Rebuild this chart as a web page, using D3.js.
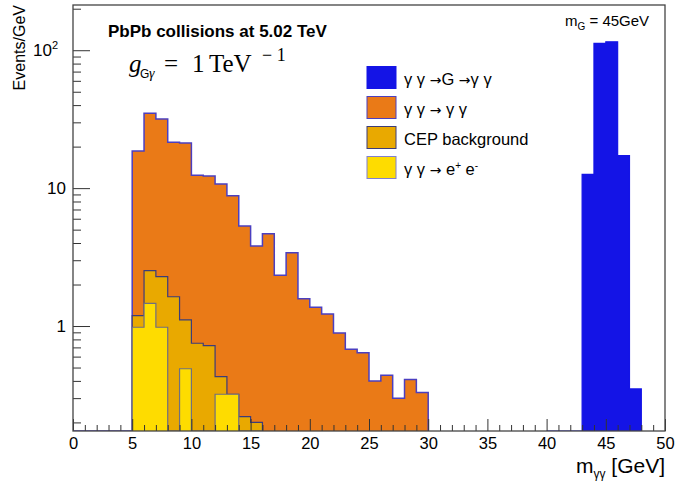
<!DOCTYPE html>
<html>
<head>
<meta charset="utf-8">
<script src="https://cdn.jsdelivr.net/npm/d3@7/dist/d3.min.js"></script>
<style>
    body { margin: 0; background: #fff; }
    text { font-family: "Liberation Sans", Arial, Helvetica, sans-serif; fill: #000; }
</style>
</head>
<body>
<svg class="mggPlot" width="699" height="485"></svg>
<script>
//Diphoton invariant mass, PbPb at 5.02 TeV, stacked backgrounds + graviton signal (log y)

//--Data (1 GeV bins, value = events/GeV, bins are given by their low edge)
var ggBins  = [0, 1, 2, 3, 4, 5, 6, 7, 8, 9, 10, 11, 12, 13, 14, 15, 16, 17, 18, 19,
               20, 21, 22, 23, 24, 25, 26, 27, 28, 29];
var ggVals  = [0, 0, 0, 0, 0, 17.4, 32.4, 29.4, 19.9, 20.1, 11.65, 11.5, 10.3, 8.5, 5.1, 3.6,
               4.67, 2.33, 3.40, 1.58, 1.37, 1.22, 0.89, 0.68, 0.64, 0.40, 0.44, 0.30, 0.41, 0.33];
var lowBins = [5, 6, 7, 8, 9, 10, 11, 12, 13, 14, 15];
var cepVals = [0.21, 1.06, 1.30, 1.63, 0.62, 0.75, 0.72, 0.11, 0, 0.22, 0.20];
var eeVals  = [0.98, 1.46, 0.98, 0, 0.49, 0, 0, 0.32, 0.32, 0, 0];
var gravBins = [40, 41, 42, 43, 44, 45, 46, 47];
var gravVals = [0.05, 0.05, 0, 12.6, 112, 115, 17.2, 0.35];

var xMajor = [0, 5, 10, 15, 20, 25, 30, 35, 40, 45, 50];
var yMajor = [1, 10, 100];
var binWidth = 1;

var legendData = [ { txt: ["\u03b3 \u03b3 ", "\u2192", "G ", "\u2192", "\u03b3 \u03b3"], fill: "#1414e6", stroke: "#1414e6" },
                   { txt: ["\u03b3 \u03b3  ", "\u2192", "  \u03b3 \u03b3"], fill: "#ea7a17", stroke: "#4b3fc0" },
                   { txt: ["CEP background"], fill: "#e9a900", stroke: "#3c3c7a" },
                   { txt: ["\u03b3 \u03b3  ", "\u2192", "  e", "+", " e", "-"], fill: "#fedc00", stroke: "#8080d0" } ];

var svg = d3.select("svg.mggPlot"),
    frame = {left: 73, right: 665, top: 5, bottom: 431};
var serif = "'Liberation Serif', 'DejaVu Serif', serif";

var x = d3.scaleLinear().domain([0, 50]).range([frame.left, frame.right]);
var y = d3.scaleLog().domain([0.1733, 212.8]).range([frame.bottom, frame.top]);
var yMin = y.domain()[0];

function lookup(bins, vals, b) {
    var i = bins.indexOf(b);
    return i < 0 ? 0 : vals[i];
}

//cumulative stack: ee at the bottom, then CEP, then gamma gamma
var cepStack = lowBins.map(function(b, i) { return cepVals[i] + eeVals[i]; });
var ggStack = ggBins.map(function(b, i) {
    return ggVals[i] + lookup(lowBins, cepVals, b) + lookup(lowBins, eeVals, b);
});

function stepPoints(bins, vals) {
    var base = y.range()[0];
    var pts = [[x(bins[0]), base]];
    bins.forEach(function(b, i) {
        var v = vals[i] > yMin ? y(vals[i]) : base;
        pts.push([x(b), v]);
        pts.push([x(b + binWidth), v]);
    });
    pts.push([x(bins[bins.length - 1] + binWidth), base]);
    return pts;
}

svg.append("defs").append("clipPath").attr("id", "frameClip")
    .append("rect")
    .attr("x", frame.left).attr("y", frame.top)
    .attr("width", frame.right - frame.left).attr("height", frame.bottom - frame.top);

var hists = svg.append("g").attr("clip-path", "url(#frameClip)");
var line = d3.line();

function drawHist(bins, vals, fill, stroke, width) {
    var pts = stepPoints(bins, vals);
    hists.append("path")
        .attr("d", line(pts) + "Z")
        .attr("fill", fill)
        .attr("stroke", "none");
    hists.append("path")
        .attr("d", line(pts))
        .attr("fill", "none")
        .attr("stroke", stroke)
        .attr("stroke-width", width);
}

drawHist(gravBins, gravVals, "#1414e6", "#1414e6", 1.2);
drawHist(ggBins, ggStack, "#ea7a17", "#4b3fc0", 1.5);
drawHist(lowBins, cepStack, "#e9a900", "#3c3c7a", 1.2);
drawHist(lowBins, eeVals, "#fedc00", "#6f6f80", 1.2);

//--Axes (ROOT style: ticks point inwards)
var xMinor = d3.range(0, 51).filter(function(v) { return v % 5 !== 0; });
svg.append("g")
    .attr("transform", "translate(0," + frame.bottom + ")")
    .call(d3.axisBottom(x).tickValues(xMinor).tickSize(-6).tickFormat(""))
    .call(function(g) { g.select(".domain").remove(); g.selectAll("line").attr("stroke", "#333"); });

svg.append("g")
    .attr("transform", "translate(0," + frame.bottom + ")")
    .call(d3.axisBottom(x).tickValues(xMajor).tickSize(-12).tickPadding(6).tickFormat(d3.format("d")))
    .call(function(g) {
        g.select(".domain").remove();
        g.selectAll("line").attr("stroke", "#333");
        g.selectAll("text").attr("font-size", "16.5px").attr("font-family", null);
    });

var yMinor = [];
[0.1, 1, 10, 100].forEach(function(dec) {
    d3.range(2, 10).forEach(function(k) {
        var v = k * dec;
        if (v > yMin && v < y.domain()[1]) yMinor.push(v);
    });
});
svg.append("g")
    .attr("transform", "translate(" + frame.left + ",0)")
    .call(d3.axisLeft(y).tickValues(yMinor).tickSize(-8).tickFormat(""))
    .call(function(g) { g.select(".domain").remove(); g.selectAll("line").attr("stroke", "#333"); });

svg.append("g")
    .attr("transform", "translate(" + frame.left + ",0)")
    .call(d3.axisLeft(y).tickValues(yMajor).tickSize(-17).tickPadding(7).tickFormat(function(d) { return d >= 100 ? "10" : d3.format("d")(d); }))
    .call(function(g) {
        g.select(".domain").remove();
        g.selectAll("line").attr("stroke", "#333");
        g.selectAll("text").attr("font-size", "17px").attr("font-family", null);
        //exponent for 10^2
        g.selectAll("text").filter(function(d) { return d >= 100; })
            .attr("dx", "-8px")
            .append("tspan").attr("dy", "-7").attr("font-size", "11px").text("2");
    });

//frame
svg.append("rect")
    .attr("x", frame.left).attr("y", frame.top)
    .attr("width", frame.right - frame.left).attr("height", frame.bottom - frame.top)
    .attr("fill", "none")
    .attr("stroke", "#444")
    .attr("stroke-width", 1.3);

//--Axis titles
var xt = svg.append("text")
    .attr("x", frame.right)
    .attr("y", 473)
    .attr("text-anchor", "end")
    .attr("font-size", "21px");
xt.append("tspan").text("m");
xt.append("tspan").attr("dy", "5").attr("font-size", "12px").text("\u03b3\u03b3");
xt.append("tspan").attr("dy", "-5").text(" [GeV]");

svg.append("text")
    .attr("transform", "rotate(-90)")
    .attr("x", -frame.top)
    .attr("y", 25)
    .attr("text-anchor", "end")
    .attr("font-size", "16px")
    .text("Events/GeV");

//--Labels
svg.append("text")
    .attr("x", 108)
    .attr("y", 37)
    .attr("font-size", "17px")
    .attr("font-weight", "bold")
    .text("PbPb collisions at 5.02 TeV");

//coupling g_{G gamma} = 1 TeV^-1, latex-like
var coup = svg.append("g");
coup.append("text").attr("x", 129).attr("y", 72)
    .style("font-family", serif).style("font-style", "italic").style("font-size", "25px").text("g");
coup.append("text").attr("x", 140).attr("y", 78).style("font-size", "12px").text("G");
coup.append("text").attr("x", 149).attr("y", 78)
    .style("font-family", serif).style("font-style", "italic").style("font-size", "14px").text("\u03b3");
coup.append("text").attr("x", 164).attr("y", 72)
    .style("font-family", serif).style("font-size", "25px").text("=");
coup.append("text").attr("x", 192).attr("y", 72)
    .style("font-family", serif).style("font-size", "25px").text("1");
coup.append("text").attr("x", 209).attr("y", 72)
    .style("font-family", serif).style("font-size", "25px").text("TeV");
coup.append("text").attr("x", 262).attr("y", 61)
    .style("font-family", serif).style("font-size", "18px").text("\u2212 1");

var mg = svg.append("text")
    .attr("x", 565)
    .attr("y", 26)
    .attr("font-size", "15px");
mg.append("tspan").text("m");
mg.append("tspan").attr("dy", "4").attr("font-size", "10px").text("G");
mg.append("tspan").attr("dy", "-4").text(" = 45GeV");

//--Legend
var legend = svg.append("g").attr("class", "legend");
legend.x = 367;
legend.y = 77.5;
legend.rowH = 30;
legend.selectAll("rect")
    .data(legendData)
    .enter()
    .append("rect")
    .attr("x", legend.x)
    .attr("y", function(d, i) { return legend.y + i * legend.rowH - 11; })
    .attr("width", 29)
    .attr("height", 22)
    .attr("fill", function(d) { return d.fill; })
    .attr("stroke", function(d) { return d.stroke; })
    .attr("stroke-width", 1);
legend.selectAll("text")
    .data(legendData)
    .enter()
    .append("text")
    .attr("x", legend.x + 37)
    .attr("y", function(d, i) { return legend.y + i * legend.rowH + 7; })
    .attr("font-size", "16.5px")
    .each(function(d) {
        var t = d3.select(this);
        var shift = 0;
        d.txt.forEach(function(s) {
            var ts = t.append("tspan").text(s);
            if (s === "\u2192") {
                ts.style("font-family", "'DejaVu Sans', sans-serif").attr("font-size", "14px");
            } else if (s === "+" || s === "-") {
                ts.attr("font-size", "10px").attr("dy", -6 - shift);
                shift = -6;
                return;
            }
            if (shift !== 0) { ts.attr("dy", -shift); shift = 0; }
        });
    });
</script>
</body>
</html>
